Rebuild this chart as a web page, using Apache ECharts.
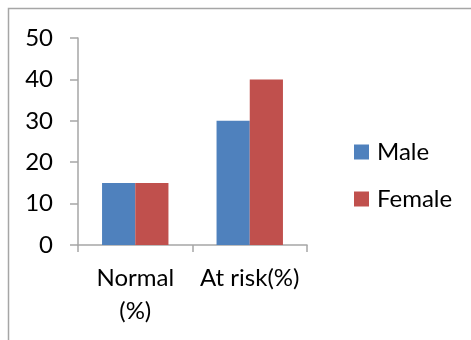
<!DOCTYPE html>
<html>
<head>
<meta charset="utf-8">
<script src="https://cdn.jsdelivr.net/npm/echarts@6/dist/echarts.min.js"></script>
<style>
  html, body { margin: 0; padding: 0; background: #fff; }
  #chart { width: 471px; height: 340px; }
</style>
</head>
<body>
<div id="chart"></div>
<script>
// Share of normal vs. at-risk subjects by sex
const categories = ['Normal\n(%)', 'At risk(%)'];
const maleValues = [15, 30];
const femaleValues = [15, 40];
const seriesNames = ['Male', 'Female'];

const FONT = 'Lato, "Open Sans", sans-serif';
const FONT_SIZE = 24;
const chart = echarts.init(document.getElementById('chart'));

chart.setOption({
  animation: false,
  graphic: [{
    type: 'rect',
    shape: { x: 8.5, y: 8.5, width: 600, height: 500 },
    style: { fill: 'none', stroke: '#a6a6a6', lineWidth: 1.5 },
    z: -1
  }],
  grid: { left: 78, right: 164, top: 38, bottom: 95 },
  legend: {
    orient: 'vertical',
    left: 349,
    top: 135,
    itemWidth: 15,
    itemHeight: 15,
    itemGap: 23,
    icon: 'rect',
    textStyle: { fontFamily: FONT, fontSize: FONT_SIZE, color: '#000', padding: [0, 0, 0, 3] },
    data: seriesNames
  },
  xAxis: {
    type: 'category',
    data: categories,
    axisLine: { show: true, lineStyle: { color: '#a6a6a6', width: 1.5 } },
    axisTick: { show: true, length: 7, lineStyle: { color: '#a6a6a6', width: 1.5 } },
    axisLabel: {
      interval: 0,
      hideOverlap: false,
      fontFamily: FONT, fontSize: FONT_SIZE, color: '#000', margin: 17, lineHeight: 33
    }
  },
  yAxis: {
    type: 'value',
    min: 0,
    max: 50,
    interval: 10,
    splitLine: { show: false },
    axisLine: { show: true, lineStyle: { color: '#a6a6a6', width: 1.5 } },
    axisTick: { show: true, length: 8, lineStyle: { color: '#a6a6a6', width: 1.5 } },
    axisLabel: { fontFamily: FONT, fontSize: FONT_SIZE, color: '#000', margin: 25 }
  },
  series: [
    {
      name: seriesNames[0],
      type: 'bar',
      data: maleValues,
      barGap: '0%',
      barCategoryGap: '42%',
      itemStyle: { color: '#4f81bd' }
    },
    {
      name: seriesNames[1],
      type: 'bar',
      data: femaleValues,
      barGap: '0%',
      barCategoryGap: '42%',
      itemStyle: { color: '#c0504d' }
    }
  ]
});
</script>
</body>
</html>
